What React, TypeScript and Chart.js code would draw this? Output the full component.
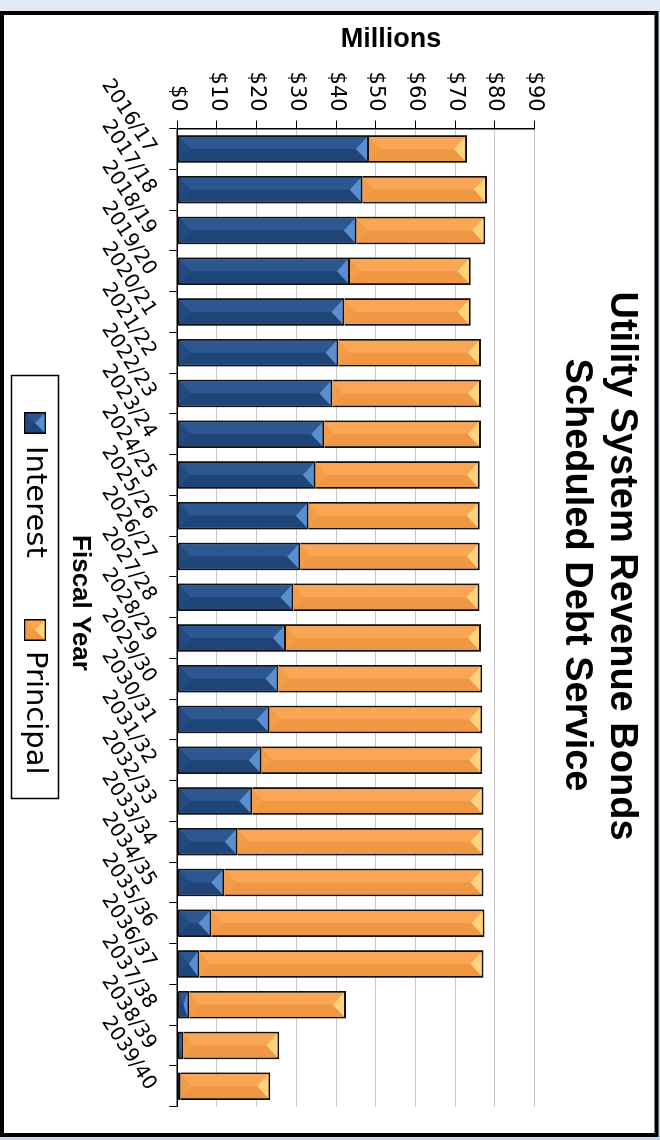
import React, { useEffect, useRef } from 'react';
import { Chart, registerables } from 'chart.js';

Chart.register(...registerables);

const fiscalYears = [
  '2016/17', '2017/18', '2018/19', '2019/20', '2020/21', '2021/22', '2022/23', '2023/24',
  '2024/25', '2025/26', '2026/27', '2027/28', '2028/29', '2029/30', '2030/31', '2031/32',
  '2032/33', '2033/34', '2034/35', '2035/36', '2036/37', '2037/38', '2038/39', '2039/40',
];

// $ millions
const interest = [
  48.3, 46.7, 45.2, 43.5, 42.1, 40.6, 39.1, 37.0, 34.9, 33.1, 31.0, 29.3,
  27.4, 25.5, 23.3, 21.3, 18.9, 15.2, 11.8, 8.6, 5.6, 3.0, 1.5, 0.9,
];
const principal = [
  24.7, 31.3, 32.4, 30.4, 31.8, 35.9, 37.4, 39.5, 41.3, 43.1, 45.2, 46.8,
  49.1, 51.3, 53.5, 55.5, 58.2, 61.9, 65.3, 68.8, 71.5, 39.5, 24.2, 22.5,
];

const valueTicks = [0, 10, 20, 30, 40, 50, 60, 70, 80, 90];
const titleLines = ['Utility System Revenue Bonds', 'Scheduled Debt Service'];
const valueAxisTitle = 'Millions';
const categoryAxisTitle = 'Fiscal Year';
const seriesNames = ['Interest', 'Principal'];

const W = 1140;
const H = 660;

const palette = [
  { base: '#274f88', light: '#2c5790', dark: '#1f4578', hi: '#5b8ecd', lo: '#234a80' },
  { base: '#f8a04c', light: '#fba654', dark: '#f09743', hi: '#fdd47e', lo: '#f39c48' },
];

function bevel(ctx: CanvasRenderingContext2D, l: number, r: number, t: number, b: number, c: any) {
  if (r - l <= 0 || b - t <= 0) return;
  const cx = (l + r) / 2;
  const len = b - t;
  const h = Math.min(11, len / 2);
  ctx.save();
  ctx.fillStyle = c.light;
  ctx.fillRect(l, t, cx - l, len);
  ctx.fillStyle = c.dark;
  ctx.fillRect(cx, t, r - cx, len);
  ctx.fillStyle = c.lo;
  ctx.beginPath();
  ctx.moveTo(l, b);
  ctx.lineTo(r, b);
  ctx.lineTo(cx, b - h);
  ctx.closePath();
  ctx.fill();
  ctx.fillStyle = c.hi;
  ctx.beginPath();
  ctx.moveTo(l, t);
  ctx.lineTo(r, t);
  ctx.lineTo(cx, t + h);
  ctx.closePath();
  ctx.fill();
  ctx.restore();
}

const decorPlugin = {
  id: 'decor',
  beforeDraw(chart: any) {
    const ctx = chart.ctx as CanvasRenderingContext2D;
    ctx.save();
    const g = ctx.createLinearGradient(0, 0, W, 0);
    g.addColorStop(0, '#e2ebf5');
    g.addColorStop(1, '#c4d9ee');
    ctx.fillStyle = g;
    ctx.fillRect(0, 0, W, H);
    ctx.fillStyle = '#ffffff';
    ctx.fillRect(13, 3.5, 1122, 654.5);
    ctx.strokeStyle = '#000';
    ctx.lineWidth = 4;
    ctx.strokeRect(13, 3.5, 1122, 654.5);
    ctx.restore();
  },
  afterDatasetsDraw(chart: any) {
    const ctx = chart.ctx as CanvasRenderingContext2D;
    chart.data.datasets.forEach((ds: any, di: number) => {
      const meta = chart.getDatasetMeta(di);
      meta.data.forEach((el: any) => {
        const p = el.getProps(['x', 'y', 'base', 'width'], true);
        const bw = 2;
        const l = p.x - p.width / 2 + bw;
        const r = p.x + p.width / 2 - bw;
        const t = Math.min(p.y, p.base) + bw;
        const b = Math.max(p.y, p.base) - (di === 0 ? bw : 0);
        bevel(ctx, l, r, t, b, palette[di]);
      });
    });
  },
  afterDraw(chart: any) {
    const ctx = chart.ctx as CanvasRenderingContext2D;
    ctx.save();
    ctx.fillStyle = '#000';
    ctx.font = 'bold 38px "Liberation Sans", Arial, sans-serif';
    ctx.textAlign = 'center';
    ctx.textBaseline = 'middle';
    ctx.fillText(titleLines[0], 566, 39);
    ctx.fillText(titleLines[1], 575, 84);
    ctx.save();
    ctx.translate(40, 269);
    ctx.rotate(-Math.PI / 2);
    ctx.font = 'bold 27px "Liberation Sans", Arial, sans-serif';
    ctx.fillText(valueAxisTitle, 0, 0);
    ctx.restore();
    ctx.font = 'bold 26px "Liberation Sans", Arial, sans-serif';
    ctx.fillText(categoryAxisTitle, 603, 580);
    ctx.strokeStyle = '#000';
    ctx.lineWidth = 1.5;
    ctx.strokeRect(375.5, 601.5, 423, 47);
    ctx.font = '29px "DejaVu Sans", sans-serif';
    ctx.textAlign = 'left';
    ctx.textBaseline = 'alphabetic';
    const items = [
      { icon: 412, text: 446 },
      { icon: 619, text: 651 },
    ];
    items.forEach((it, i) => {
      const s = 22;
      const top = 614;
      ctx.fillStyle = '#000';
      ctx.fillRect(it.icon, top, s, s);
      bevel(ctx, it.icon + 1.5, it.icon + s - 1.5, top + 1.5, top + s - 1.5, palette[i]);
      ctx.fillStyle = '#000';
      ctx.fillText(seriesNames[i], it.text, 633);
    });
    ctx.restore();
  },
};

export default function App() {
  const ref = useRef<HTMLCanvasElement | null>(null);
  useEffect(() => {
    if (!ref.current) return;
    const chart = new Chart(ref.current, {
      type: 'bar',
      data: {
        labels: fiscalYears,
        datasets: [
          {
            label: seriesNames[0],
            data: interest,
            backgroundColor: palette[0].base,
            borderColor: '#111',
            borderWidth: 2,
            borderSkipped: false,
            barPercentage: 0.68,
            categoryPercentage: 1,
          },
          {
            label: seriesNames[1],
            data: principal,
            backgroundColor: palette[1].base,
            borderColor: '#111',
            borderWidth: 2,
            borderSkipped: 'start',
            barPercentage: 0.68,
            categoryPercentage: 1,
          },
        ],
      },
      options: {
        animation: false,
        responsive: false,
        layout: { padding: { left: 0, right: 33.4, top: 125.4, bottom: 0 } },
        plugins: {
          legend: { display: false },
          title: { display: false },
          tooltip: { enabled: false },
        },
        scales: {
          x: {
            stacked: true,
            grid: {
              display: true,
              drawOnChartArea: false,
              drawTicks: true,
              tickLength: 8,
              color: '#000',
              tickColor: '#000',
              offset: true,
            },
            border: { display: true, color: '#000', width: 1.5 },
            ticks: {
              autoSkip: false,
              minRotation: 33,
              maxRotation: 33,
              padding: 8,
              labelOffset: 2,
              color: '#000',
              font: { family: '"DejaVu Sans", sans-serif', size: 20 },
            },
            afterFit: (s: any) => {
              s.height = 177.3;
            },
          },
          y: {
            stacked: true,
            min: valueTicks[0],
            max: valueTicks[valueTicks.length - 1],
            afterBuildTicks: (s: any) => {
              s.ticks = valueTicks.map((v) => ({ value: v }));
            },
            ticks: {
              padding: 9,
              color: '#000',
              font: { family: '"DejaVu Sans", sans-serif', size: 21 },
              callback: (v: any) => '$' + v,
            },
            grid: {
              color: '#c8c8c8',
              lineWidth: 1,
              tickColor: '#000',
              tickLength: 8,
              drawTicks: true,
            },
            border: { display: true, color: '#000', width: 1.5 },
            afterFit: (s: any) => {
              s.width = 128.6;
            },
          },
        },
      },
      plugins: [decorPlugin],
    } as any);
    return () => chart.destroy();
  }, []);

  return (
    <div style={{ position: 'fixed', left: 0, top: 0, width: 660, height: 1140, overflow: 'hidden' }}>
      <div
        style={{
          position: 'absolute',
          left: 0,
          top: 0,
          width: W,
          height: H,
          transformOrigin: '0 0',
          transform: 'translate(660px, 0px) rotate(90deg)',
        }}
      >
        <canvas ref={ref} width={W} height={H} style={{ display: 'block', width: W, height: H }} />
      </div>
    </div>
  );
}
